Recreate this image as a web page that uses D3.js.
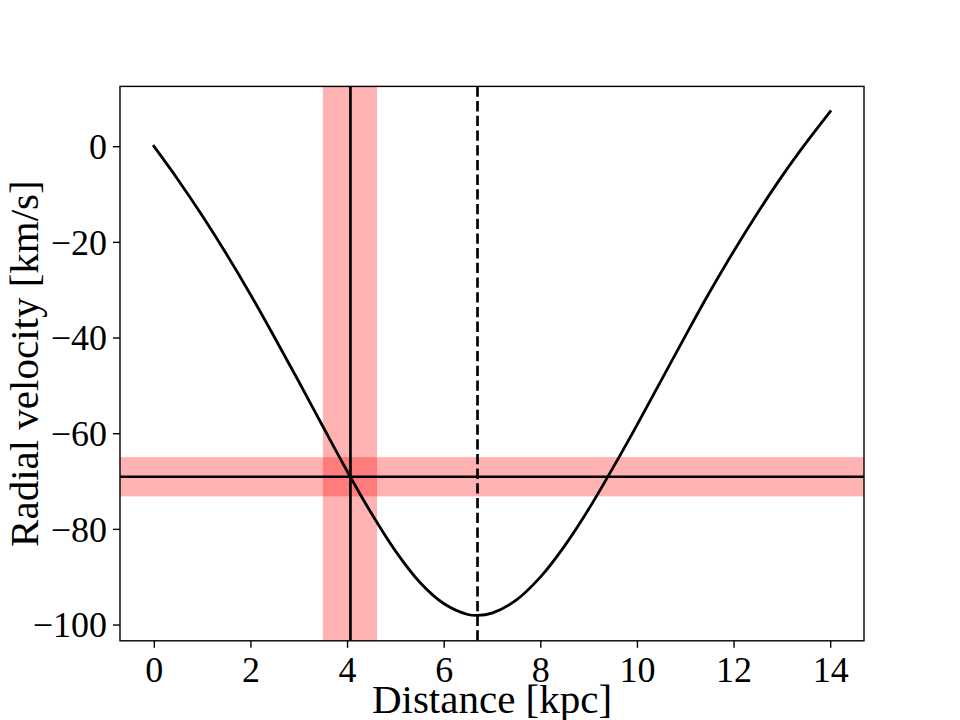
<!DOCTYPE html>
<html>
<head>
<meta charset="utf-8">
<script src="https://cdn.jsdelivr.net/npm/d3@7"></script>
<style>
  html, body { margin: 0; padding: 0; background: #fff; }
  svg { display: block; }
</style>
</head>
<body>
<script>
// ---- data ----
const distance = [0, 0.5, 1, 1.5, 2, 2.5, 3, 3.5, 4, 4.5, 5, 5.5, 6, 6.5, 6.7, 7, 7.5, 8, 8.5, 9, 9.5, 10, 10.5, 11, 11.5, 12, 12.5, 13, 13.5, 14];
const velocity = [0, -7.0, -14.5, -22.5, -31.0, -40.0, -49.2, -58.6, -67.9, -76.7, -84.6, -91.1, -95.6, -97.9, -98.1, -97.6, -94.9, -90.1, -83.6, -75.9, -67.3, -58.3, -49.0, -39.7, -30.6, -22.0, -13.9, -6.3, 0.7, 7.25];
const xTicks = [0, 2, 4, 6, 8, 10, 12, 14];
const yTicks = [-100, -80, -60, -40, -20, 0];
const markerDistance = [4.07];             // solid vertical line
const markerDistanceBand = [3.5, 4.62];    // shaded vertical band
const markerVelocity = [-69.1];            // solid horizontal line
const markerVelocityBand = [-73.2, -65.0]; // shaded horizontal band
const tangentDistance = [6.7];             // dashed vertical line
const xLabel = "Distance [kpc]";
const yLabel = "Radial velocity [km/s]";

(function () {
  const W = 960, H = 720;
  const mL = 120, mR = 864, mT = 86.4, mB = 640.8;
  const font = "'Liberation Serif', 'Times New Roman', Times, serif";

  const svg = d3.select("body").append("svg").attr("width", W).attr("height", H);

  const x = d3.scaleLinear().domain([-0.7, 14.7]).range([mL, mR]);
  const y = d3.scaleLinear().domain([-103.4, 12.5]).range([mB, mT]);

  svg.append("defs").append("clipPath").attr("id", "plotclip")
    .append("rect").attr("x", mL).attr("y", mT).attr("width", mR - mL).attr("height", mB - mT);

  const plot = svg.append("g").attr("clip-path", "url(#plotclip)");

  // bands
  plot.append("rect")
    .attr("x", x(markerDistanceBand[0])).attr("y", mT)
    .attr("width", x(markerDistanceBand[1]) - x(markerDistanceBand[0]))
    .attr("height", mB - mT)
    .attr("fill", "red").attr("fill-opacity", 0.3);
  plot.append("rect")
    .attr("x", mL).attr("y", y(markerVelocityBand[1]))
    .attr("width", mR - mL)
    .attr("height", y(markerVelocityBand[0]) - y(markerVelocityBand[1]))
    .attr("fill", "red").attr("fill-opacity", 0.3);

  // reference lines
  plot.append("line")
    .attr("x1", x(markerDistance[0])).attr("x2", x(markerDistance[0]))
    .attr("y1", mT).attr("y2", mB)
    .attr("stroke", "#000").attr("stroke-width", 2.7);
  plot.append("line")
    .attr("x1", mL).attr("x2", mR)
    .attr("y1", y(markerVelocity[0])).attr("y2", y(markerVelocity[0]))
    .attr("stroke", "#000").attr("stroke-width", 2.7);
  plot.append("line")
    .attr("x1", x(tangentDistance[0])).attr("x2", x(tangentDistance[0]))
    .attr("y1", mT).attr("y2", mB)
    .attr("stroke", "#000").attr("stroke-width", 2.7)
    .attr("stroke-dasharray", "10.3,4.4");

  // curve
  const pts = distance.map((d, i) => [d, velocity[i]]);
  plot.append("path")
    .datum(pts)
    .attr("fill", "none")
    .attr("stroke", "#000")
    .attr("stroke-width", 2.8)
    .attr("stroke-linecap", "square")
    .attr("d", d3.line().x(d => x(d[0])).y(d => y(d[1])).curve(d3.curveCatmullRom.alpha(0.5)));

  // frame
  svg.append("rect")
    .attr("x", mL).attr("y", mT).attr("width", mR - mL).attr("height", mB - mT)
    .attr("fill", "none").attr("stroke", "#000").attr("stroke-width", 1.4);

  // axes
  const fmt = d3.format("d");
  const xAxis = svg.append("g").attr("transform", `translate(0,${mB})`)
    .call(d3.axisBottom(x).tickValues(xTicks).tickFormat(fmt).tickSize(7).tickPadding(6));
  const yAxis = svg.append("g").attr("transform", `translate(${mL},0)`)
    .call(d3.axisLeft(y).tickValues(yTicks).tickFormat(d => fmt(d).replace("-", "\u2212")).tickSize(7).tickPadding(6));

  [xAxis, yAxis].forEach(g => {
    g.select(".domain").remove();
    g.selectAll(".tick line").attr("stroke", "#000").attr("stroke-width", 1.4);
    g.selectAll(".tick text").attr("fill", "#000").style("font-family", font).style("font-size", "36px");
  });
  xAxis.selectAll(".tick text").attr("dy", null).attr("y", 41);
  yAxis.selectAll(".tick text").attr("dy", "0.34em");

  // axis labels
  svg.append("text")
    .attr("x", (mL + mR) / 2).attr("y", 713)
    .attr("text-anchor", "middle")
    .style("font-family", font).style("font-size", "41px")
    .text(xLabel);
  svg.append("text")
    .attr("transform", `translate(38,${(mT + mB) / 2}) rotate(-90)`)
    .attr("text-anchor", "middle")
    .style("font-family", font).style("font-size", "41px")
    .text(yLabel);
})();
</script>
</body>
</html>
